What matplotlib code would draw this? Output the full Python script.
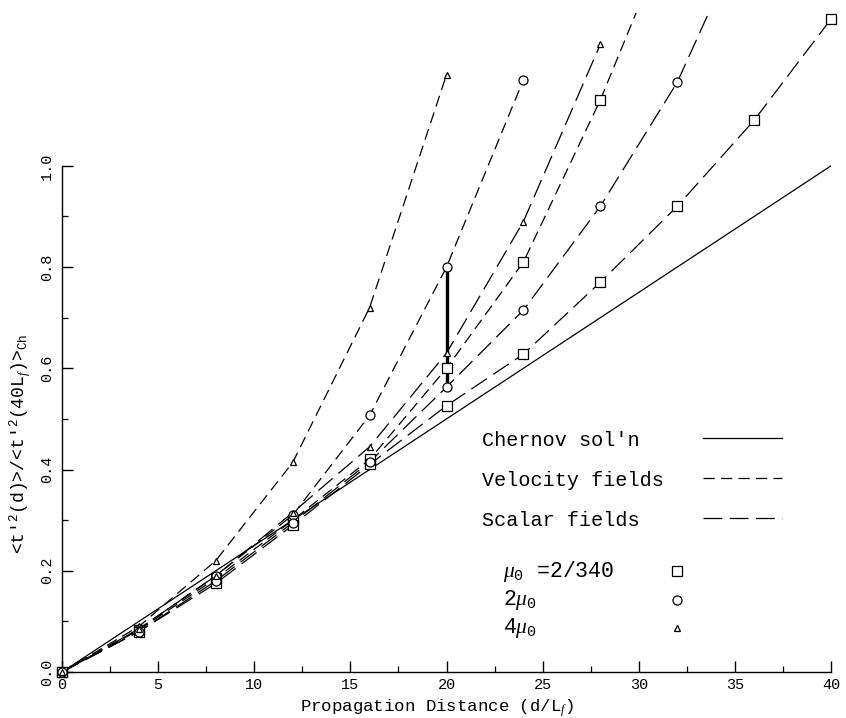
import numpy as np
import matplotlib
matplotlib.use('Agg')
from matplotlib import pyplot as plt

plt.rcParams['font.family'] = ['Liberation Mono', 'DejaVu Sans']
plt.rcParams['mathtext.fontset'] = 'custom'
plt.rcParams['mathtext.rm'] = 'Liberation Mono'
plt.rcParams['mathtext.it'] = 'Liberation Serif:italic'

# Chernov solution (straight line)
chernov_x = [0, 40]
chernov_y = [0, 1.0]

# velocity fields (short dashes)
vel_mu1_x = [0, 4, 8, 12, 16, 20, 24, 28, 32]
vel_mu1_y = [0, 0.083, 0.185, 0.30, 0.42, 0.60, 0.81, 1.13, 1.50]
vel_mu2_x = [0, 4, 8, 12, 16, 20, 24]
vel_mu2_y = [0, 0.085, 0.19, 0.31, 0.507, 0.80, 1.17]
vel_mu4_x = [0, 4, 8, 12, 16, 20]
vel_mu4_y = [0, 0.09, 0.22, 0.414, 0.72, 1.18]

# scalar fields (long dashes)
sca_mu1_x = [0, 4, 8, 12, 16, 20, 24, 28, 32, 36, 40]
sca_mu1_y = [0, 0.08, 0.175, 0.29, 0.41, 0.526, 0.628, 0.77, 0.92, 1.09, 1.29]
sca_mu2_x = [0, 4, 8, 12, 16, 20, 24, 28, 32, 36]
sca_mu2_y = [0, 0.08, 0.18, 0.295, 0.415, 0.563, 0.715, 0.92, 1.165, 1.50]
sca_mu4_x = [0, 4, 8, 12, 16, 20, 24, 28]
sca_mu4_y = [0, 0.085, 0.19, 0.315, 0.445, 0.63, 0.89, 1.24]

# vertical bar at d = 20
bar_x = 20
bar_lo, bar_hi = 0.563, 0.80

Y_TOP = 1.302
VEL_DASH = (9, 5)
SCA_DASH = (15, 6)

fig = plt.figure(figsize=(8.46, 7.18), dpi=100)
ax = fig.add_axes([62 / 846, 46 / 718, (831 - 62) / 846, (672 - 13) / 718])
ax.set_xlim(0, 40)
ax.set_ylim(0, Y_TOP)

ax.plot(chernov_x, chernov_y, color='black', lw=0.9)


def draw(x, y, dashes, marker, ms):
    x = np.asarray(x)
    y = np.asarray(y)
    ax.plot(x, y, color='black', lw=0.9, dashes=dashes)
    m = y <= Y_TOP
    ax.plot(x[m], y[m], ls='none', marker=marker, ms=ms, mfc='white',
            mec='black', mew=0.9, clip_on=False, zorder=3)


draw(vel_mu1_x, vel_mu1_y, VEL_DASH, 's', 6.5)
draw(vel_mu2_x, vel_mu2_y, VEL_DASH, 'o', 6.5)
draw(vel_mu4_x, vel_mu4_y, VEL_DASH, '^', 5)
draw(sca_mu1_x, sca_mu1_y, SCA_DASH, 's', 6.5)
draw(sca_mu2_x, sca_mu2_y, SCA_DASH, 'o', 6.5)
draw(sca_mu4_x, sca_mu4_y, SCA_DASH, '^', 5)

ax.plot([bar_x, bar_x], [bar_lo, bar_hi], color='black', lw=2.4, zorder=2)

# axes styling
for s in ['top', 'right']:
    ax.spines[s].set_visible(False)
ax.spines['left'].set_bounds(0, 1.0)
ax.spines['bottom'].set_bounds(0, 40)
ax.spines['left'].set_linewidth(1.0)
ax.spines['bottom'].set_linewidth(1.0)

ax.set_xticks(np.arange(0, 41, 5))
ax.set_xticks(np.arange(2.5, 40, 5), minor=True)
ax.set_yticks(np.arange(0, 1.01, 0.2))
ax.set_yticks(np.arange(0.1, 1.0, 0.2), minor=True)
ax.set_yticklabels(['0.0', '0.2', '0.4', '0.6', '0.8', '1.0'], rotation=90, va='center')
ax.tick_params(which='major', direction='in', length=8, width=1.0, labelsize=11, pad=4)
ax.tick_params(which='minor', direction='in', length=4, width=0.9)
ax.tick_params(axis='y', which='major', pad=6)

ax.set_xlabel('Propagation Distance (d/L$_f$)', fontsize=12.5)
ax.set_ylabel("<t'$^2$(d)>/<t'$^2$(40L$_f$)>$_{\\rm Ch}$", fontsize=13)
ax.xaxis.label.set_va('center')
ax.yaxis.label.set_va('center')
ax.xaxis.set_label_coords((437 - 62) / 769, -(708 - 672) / 659)
ax.yaxis.set_label_coords((20 - 62) / 769, 0.45 / Y_TOP)

# legend drawn by hand in axes data coordinates
tr = ax.transData.inverted()


def to_data(px, py):
    return tr.transform(fig.dpi_scale_trans.transform((px / 100, (718 - py) / 100)))


rows = [("Chernov sol'n", 440, None), ('Velocity fields', 480, VEL_DASH),
        ('Scalar fields', 520, SCA_DASH)]
for label, py, dashes in rows:
    tx, ty = to_data(482, py)
    ax.text(tx, ty, label, fontsize=14.5, va='center', ha='left')
    x0, yy = to_data(703, py - 2)
    x1, _ = to_data(782, py - 2)
    if dashes is None:
        ax.plot([x0, x1], [yy, yy], color='black', lw=0.9)
    else:
        ax.plot([x0, x1], [yy, yy], color='black', lw=0.9, dashes=dashes)

mu_rows = [(r'$\mu_0$ =2/340', 571, 's', 6.5), (r'2$\mu_0$', 600, 'o', 6.5),
           (r'4$\mu_0$', 628, '^', 5)]
for label, py, mk, ms in mu_rows:
    tx, ty = to_data(503, py)
    ax.text(tx, ty, label, fontsize=15.5, va='center', ha='left')
    mx, my = to_data(677, py)
    ax.plot([mx], [my], ls='none', marker=mk, ms=ms, mfc='white', mec='black', mew=0.9)

fig.savefig('out.png', dpi=100)
